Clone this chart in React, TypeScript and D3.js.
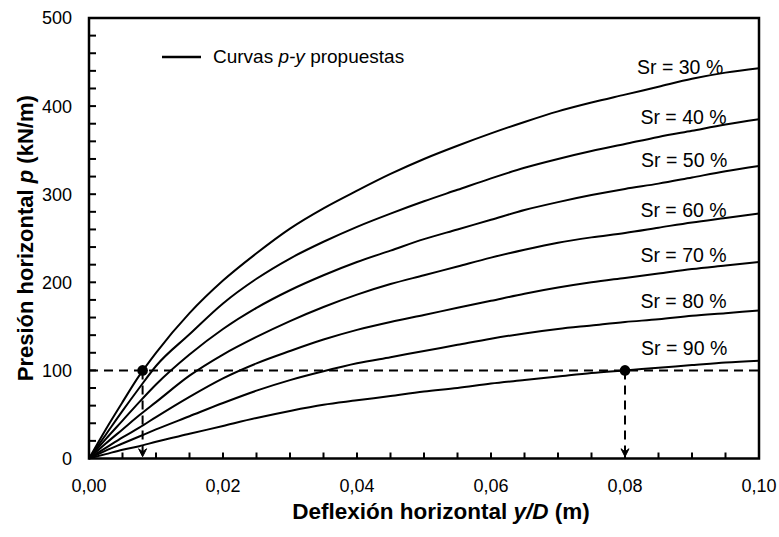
import React from "react";
import * as d3 from "d3";

const xValues = [0, 0.0025, 0.005, 0.0075, 0.01, 0.015, 0.02, 0.025, 0.03, 0.035, 0.04, 0.045, 0.05, 0.055, 0.06, 0.065, 0.07, 0.075, 0.08, 0.085, 0.09, 0.095, 0.1];

const sr30 = [0, 33, 64, 94, 120, 165, 202, 233, 261, 284, 304, 323, 340, 355, 369, 382, 394, 404, 413, 422, 431, 438, 443];
const sr40 = [0, 27, 54, 80, 105, 141, 176, 204, 227, 246, 263, 278, 292, 305, 318, 330, 340, 349, 357, 365, 372, 379, 385];
const sr50 = [0, 22, 43, 64, 84, 118, 147, 171, 191, 208, 223, 236, 249, 260, 271, 282, 291, 299, 306, 312, 319, 326, 332];
const sr60 = [0, 17, 33, 49, 64, 94, 118, 138, 156, 172, 186, 198, 208, 218, 228, 237, 245, 251, 256, 262, 268, 273, 278];
const sr70 = [0, 12, 24, 35, 47, 70, 91, 108, 122, 135, 146, 155, 163, 171, 179, 187, 194, 200, 205, 210, 215, 219, 223];
const sr80 = [0, 9, 17, 25, 33, 48, 63, 77, 89, 99, 108, 115, 122, 129, 136, 142, 147, 151, 155, 158, 162, 165, 168];
const sr90 = [0, 5, 10, 14, 19, 28, 37, 46, 54, 61, 66, 71, 76, 80, 85, 89, 93, 97, 100, 103, 106, 109, 111];

const seriesValues = [sr30, sr40, sr50, sr60, sr70, sr80, sr90];
const seriesLabels = ["Sr = 30 %", "Sr = 40 %", "Sr = 50 %", "Sr = 60 %", "Sr = 70 %", "Sr = 80 %", "Sr = 90 %"];
const labelAnchorP = [437, 379.5, 331, 274.5, 222.5, 170.5, 117.5];
const labelAnchorX = [0.0818, 0.0823, 0.0824, 0.0823, 0.0823, 0.0823, 0.0824];

const refP = 100;
const refXs = [0.008, 0.08];

const xMajorTicks = [0, 0.02, 0.04, 0.06, 0.08, 0.1];
const xMinorTicks = d3.range(1, 20).map((i) => i * 0.005);
const yMajorTicks = [0, 100, 200, 300, 400, 500];
const yMinorTicks = d3.range(1, 25).map((i) => i * 20);

const W = 779;
const H = 537;
const FONT = "'Liberation Sans', Arial, Helvetica, sans-serif";

export default function App() {
  const x = d3.scaleLinear().domain([0, 0.1]).range([89, 759]);
  const y = d3.scaleLinear().domain([0, 500]).range([458.5, 18]);
  const line = d3
    .line<number>()
    .x((_, i) => x(xValues[i]))
    .y((d) => y(d))
    .curve(d3.curveMonotoneX);
  const fmt = (v: number) => d3.format(".2f")(v).replace(".", ",");

  return (
    <svg width={W} height={H} style={{ position: "absolute", left: 0, top: 0, background: "#fff" }} fontFamily={FONT}>
      <rect x={0} y={0} width={W} height={H} fill="#fff" />
      {/* dashed reference lines */}
      <line x1={x(0)} x2={x(0.1)} y1={y(refP)} y2={y(refP)} stroke="#000" strokeWidth={2} strokeDasharray="9,6" />
      {refXs.map((rx, i) => (
        <g key={i}>
          <line x1={x(rx)} x2={x(rx)} y1={y(refP)} y2={y(2)} stroke="#000" strokeWidth={2} strokeDasharray="9,6" />
          <path
            d={`M${x(rx) - 4},${y(2) - 8} L${x(rx)},${y(2)} L${x(rx) + 4},${y(2) - 8} L${x(rx)},${y(2) - 5} Z`}
            fill="#000"
            stroke="#000"
            strokeWidth={1}
          />
        </g>
      ))}
      {/* curves */}
      {seriesValues.map((s, i) => (
        <path key={i} d={line(s) || ""} fill="none" stroke="#000" strokeWidth={2} />
      ))}
      {refXs.map((rx, i) => (
        <circle key={i} cx={x(rx)} cy={y(refP)} r={5.3} fill="#000" />
      ))}
      {/* series labels */}
      {seriesLabels.map((t, i) => (
        <text key={i} x={x(labelAnchorX[i])} y={y(labelAnchorP[i])} fontSize={19.5} fill="#000">
          {t}
        </text>
      ))}
      {/* frame */}
      <rect x={x(0)} y={y(500)} width={x(0.1) - x(0)} height={y(0) - y(500)} fill="none" stroke="#000" strokeWidth={2.5} />
      {/* ticks */}
      {xMinorTicks.map((t, i) => (
        <line key={i} x1={x(t)} x2={x(t)} y1={y(0)} y2={y(0) - 6} stroke="#000" strokeWidth={2} />
      ))}
      {yMinorTicks.map((t, i) => (
        <line key={i} x1={x(0)} x2={x(0) + 7} y1={y(t)} y2={y(t)} stroke="#000" strokeWidth={2} />
      ))}
      {xMajorTicks.map((t, i) => (
        <text key={i} x={x(t)} y={492} fontSize={18} textAnchor="middle" fill="#000">
          {fmt(t)}
        </text>
      ))}
      {yMajorTicks.map((t, i) => (
        <text key={i} x={72} y={y(t)} dy="0.36em" fontSize={18} textAnchor="end" fill="#000">
          {t}
        </text>
      ))}
      {/* legend */}
      <line x1={162} x2={201} y1={57} y2={57} stroke="#000" strokeWidth={2.5} />
      <text x={213} y={63} fontSize={19} fill="#000">
        Curvas <tspan fontStyle="italic">p-y</tspan> propuestas
      </text>
      {/* axis titles */}
      <text x={441} y={519} fontSize={22.5} fontWeight="bold" textAnchor="middle" fill="#000">
        Deflexión horizontal <tspan fontStyle="italic">y/D</tspan> (m)
      </text>
      <text
        transform={`translate(33,${(y(0) + y(500)) / 2}) rotate(-90)`}
        fontSize={22}
        fontWeight="bold"
        textAnchor="middle"
        fill="#000"
      >
        Presión horizontal <tspan fontStyle="italic">p</tspan> (kN/m)
      </text>
    </svg>
  );
}
